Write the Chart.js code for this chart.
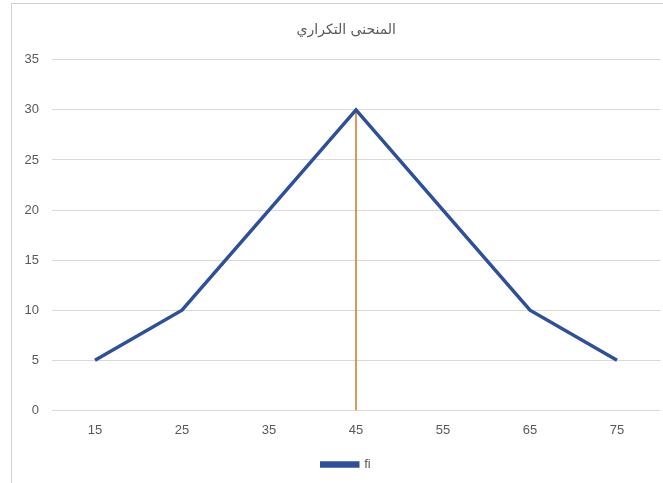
<!DOCTYPE html>
<html>
<head>
<meta charset="utf-8">
<script src="https://cdn.jsdelivr.net/npm/chart.js@4/dist/chart.umd.min.js"></script>
<style>
  html, body { margin: 0; padding: 0; background: #ffffff; }
  #wrap { position: relative; width: 663px; height: 483px; }
  #frame { position: absolute; left: 11px; top: 3px; width: 680px; height: 500px;
           border-left: 1px solid #d0d0d0; border-top: 1px solid #d0d0d0; box-sizing: border-box; }
  canvas { position: absolute; left: 0; top: 0; }
</style>
</head>
<body>
<div id="wrap">
  <div id="frame"></div>
  <canvas id="c" width="663" height="483"></canvas>
</div>
<script>
// class midpoints and frequencies
const classes = ['15', '25', '35', '45', '55', '65', '75'];
const fi = [5, 10, 20, 30, 20, 10, 5];
// vertical marker at the modal class
const modeClass = '45';
const modeValue = 30;
const yTicks = [0, 5, 10, 15, 20, 25, 30, 35];

const tickFont = { family: "'Liberation Sans', Arial, sans-serif", size: 13 };

// centre the title and legend over the plot area rather than the whole canvas
const centreOnPlot = {
  id: 'centreOnPlot',
  afterLayout(chart) {
    const shift = 10;
    [chart.titleBlock, chart.legend].forEach(b => {
      if (b) { b.left += shift; b.right += shift; }
    });
  }
};

new Chart(document.getElementById('c'), {
  type: 'line',
  data: {
    labels: classes,
    datasets: [
      {
        label: 'fi',
        data: fi,
        borderColor: '#2f5096',
        backgroundColor: '#2f5096',
        borderWidth: 3.5,
        pointRadius: 0,
        tension: 0,
        order: 1
      },
      {
        label: 'mode',
        data: [{ x: modeClass, y: 0 }, { x: modeClass, y: modeValue }],
        borderColor: '#c8782c',
        backgroundColor: '#c8782c',
        borderWidth: 1.5,
        pointRadius: 0,
        order: 2
      }
    ]
  },
  plugins: [centreOnPlot],
  options: {
    responsive: false,
    animation: false,
    layout: { padding: { left: 12, right: 2.5, top: 0, bottom: 2 } },
    plugins: {
      title: {
        display: true,
        text: 'المنحنى التكراري',
        color: '#595959',
        font: { family: "'DejaVu Sans', sans-serif", size: 14, weight: 'normal' },
        padding: { top: 22, bottom: 21 }
      },
      legend: {
        position: 'bottom',
        labels: {
          boxWidth: 36,
          boxHeight: 3,
          color: '#595959',
          font: tickFont,
          padding: 8,
          filter: (item) => item.text === 'fi'
        }
      },
      tooltip: { enabled: false }
    },
    scales: {
      x: {
        offset: true,
        grid: { display: false, drawTicks: false },
        border: { display: false },
        ticks: { color: '#595959', font: tickFont, padding: 12 }
      },
      y: {
        min: 0,
        max: 35,
        afterBuildTicks: (s) => { s.ticks = yTicks.map(v => ({ value: v })); },
        afterFit: (s) => { s.width = 39.5; },
        grid: { color: '#d9d9d9', drawTicks: false },
        border: { display: false },
        ticks: { color: '#595959', font: tickFont, padding: 12.5 }
      }
    }
  }
});
</script>
</body>
</html>
